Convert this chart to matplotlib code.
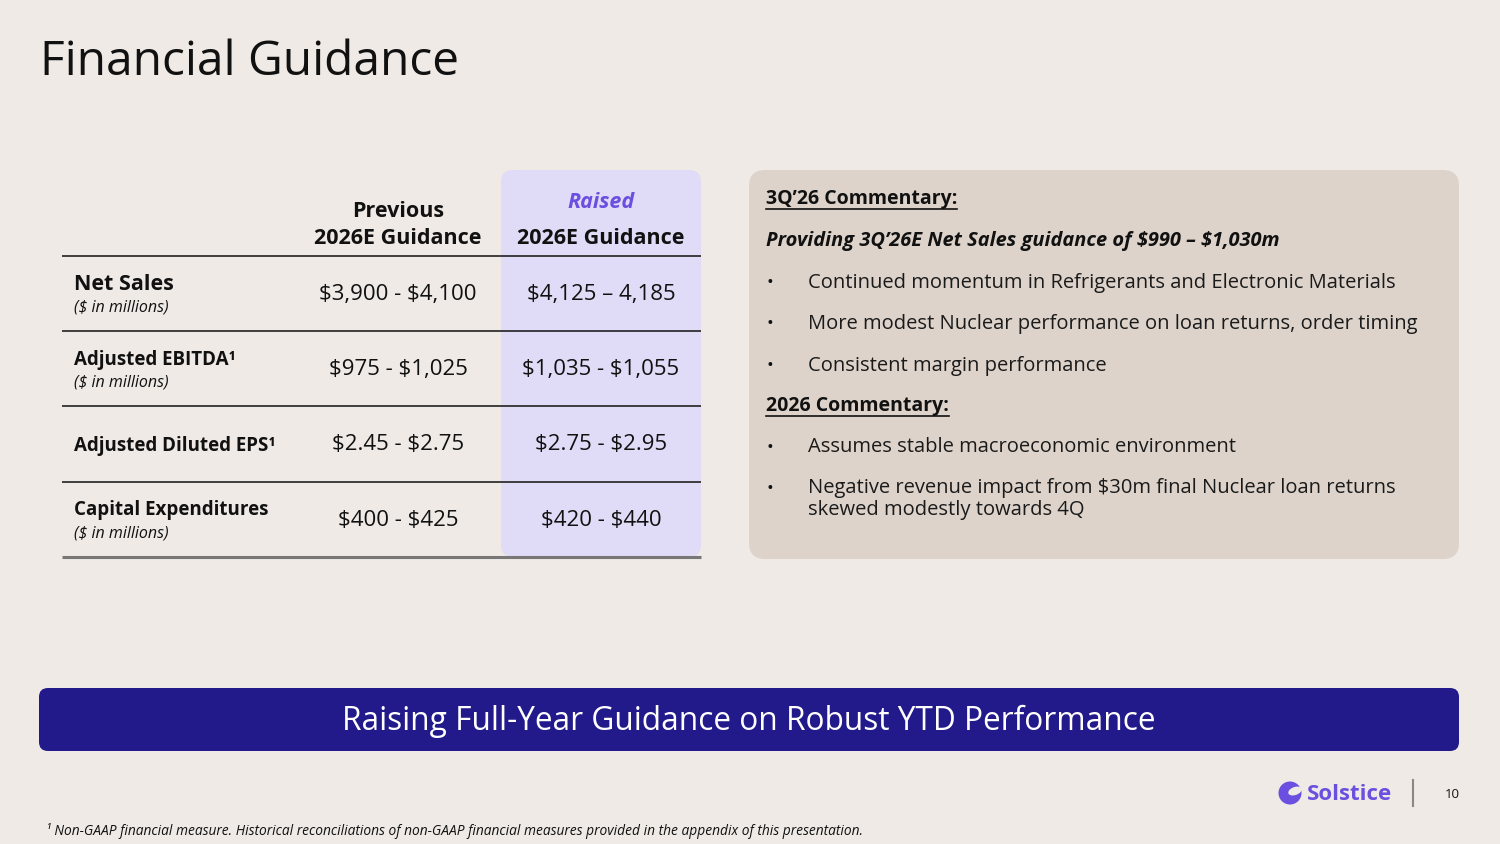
import matplotlib
matplotlib.use("Agg")
import matplotlib.pyplot as plt
from matplotlib.patches import FancyBboxPatch, Circle, Ellipse

# slide content
title = "Financial Guidance"
col_headers = ["Previous\n2026E Guidance", "2026E Guidance"]
raised_tag = "Raised"
metrics = ["Net Sales", "Adjusted EBITDA\u00b9", "Adjusted Diluted EPS\u00b9", "Capital Expenditures"]
metric_units = ["($ in millions)", "($ in millions)", "", "($ in millions)"]
previous = ["$3,900 - $4,100", "$975 - $1,025", "$2.45 - $2.75", "$400 - $425"]
raised = ["$4,125 \u2013 4,185", "$1,035 - $1,055", "$2.75 - $2.95", "$420 - $440"]

q3_heading = "3Q\u201926 Commentary:"
q3_lead = "Providing 3Q\u201926E Net Sales guidance of $990 \u2013 $1,030m"
q3_bullets = ["Continued momentum in Refrigerants and Electronic Materials",
              "More modest Nuclear performance on loan returns, order timing",
              "Consistent margin performance"]
fy_heading = "2026 Commentary:"
fy_bullets = ["Assumes stable macroeconomic environment",
              "Negative revenue impact from $30m final Nuclear loan returns\nskewed modestly towards 4Q"]

banner = "Raising Full-Year Guidance on Robust YTD Performance"
footnote = "\u00b9 Non-GAAP financial measure. Historical reconciliations of non-GAAP financial measures provided in the appendix of this presentation."
brand = "Solstice"
page = "10"

# colours
bg = "#EFEAE6"
box_c = "#DDD3CB"
lav = "#E0DBF6"
navy = "#22198A"
purple = "#6A4FE0"
ink = "#111111"

plt.rcParams['font.family'] = ['Open Sans', 'DejaVu Sans']
plt.rcParams['text.parse_math'] = False

W, H = 1500, 844
fig = plt.figure(figsize=(15, 8.44), dpi=100, facecolor=bg)
ax = fig.add_axes([0, 0, 1, 1])
ax.set_xlim(0, W)
ax.set_ylim(H, 0)
ax.axis("off")
ax.set_facecolor(bg)

ax.text(40, 62, title, fontsize=34.5, color=ink, va="center", ha="left")

# ---- table ----
left, right = 62, 701
col_x = [398, 601]
rcol_l, rcol_r = 501, 701
head_line = 256
row_h = 75.2
n = len(metrics)
dy = 2  # Open Sans sits a little high with va=center

ax.add_patch(FancyBboxPatch((rcol_l, 170), rcol_r - rcol_l, head_line + n * row_h - 170,
                            boxstyle="round,pad=0,rounding_size=12", fc=lav, ec="none", zorder=1))

ax.text(col_x[0], 225, col_headers[0], fontsize=15.5, fontweight="bold", ha="center",
        va="center", color=ink, linespacing=1.4, zorder=3)
ax.text(col_x[1], 203, raised_tag, fontsize=15.5, fontweight="bold", style="italic",
        ha="center", va="center", color=purple, zorder=3)
ax.text(col_x[1], 238, col_headers[1], fontsize=15.5, fontweight="bold", ha="center",
        va="center", color=ink, zorder=3)

for i in range(n + 1):
    y = head_line + i * row_h
    last = i == n
    ax.plot([left, right], [y, y], color="#777777" if last else "#222222",
            lw=2.2 if last else 1.2, zorder=2, solid_capstyle="butt")

for i, (m, u, p, r) in enumerate(zip(metrics, metric_units, previous, raised)):
    cy = head_line + (i + 0.5) * row_h + dy
    big = i == 0
    fs = 15.5 if big else 13.5
    if u:
        ax.text(74, cy - 11, m, fontsize=fs, fontweight="bold", ha="left", va="center", color=ink, zorder=3)
        ax.text(74, cy + 12, u, fontsize=11.5, style="italic", ha="left", va="center", color=ink, zorder=3)
    else:
        ax.text(74, cy, m, fontsize=fs, fontweight="bold", ha="left", va="center", color=ink, zorder=3)
    ax.text(col_x[0], cy - 1, p, fontsize=16, ha="center", va="center", color=ink, zorder=3)
    ax.text(col_x[1], cy - 1, r, fontsize=16, ha="center", va="center", color=ink, zorder=3)

# ---- commentary box ----
ax.add_patch(FancyBboxPatch((749, 170), 710, 389, boxstyle="round,pad=0,rounding_size=16",
                            fc=box_c, ec="none", zorder=1))

renderer = fig.canvas.get_renderer()


def underlined(x, y, s):
    t = ax.text(x, y, s, fontsize=14, fontweight="bold", ha="left", va="center", color=ink, zorder=3)
    bb = t.get_window_extent(renderer=renderer)
    ax.plot([x, x + bb.width], [y + 10, y + 10], color=ink, lw=1.2, zorder=3)


tx, bx = 766, 770
underlined(tx, 199, q3_heading)
ax.text(tx, 241, q3_lead, fontsize=14.4, fontweight="bold", style="italic", ha="left",
        va="center", color=ink, zorder=3)
for k, b in enumerate(q3_bullets):
    y = 283 + k * 41.5
    ax.text(bx, y, "\u2022", fontsize=13, ha="center", va="center", color=ink, zorder=3)
    ax.text(808, y, b, fontsize=14.5, ha="left", va="center", color="#1a1a1a", zorder=3)
underlined(tx, 406, fy_heading)
for k, b in enumerate(fy_bullets):
    y = 448 + k * 41
    ax.text(bx, y, "\u2022", fontsize=13, ha="center", va="center", color=ink, zorder=3)
    ax.text(808, y - 11, b, fontsize=14.5, ha="left", va="top", color="#1a1a1a",
            linespacing=1.15, zorder=3)

# ---- banner ----
ax.add_patch(FancyBboxPatch((39, 688), 1420, 63, boxstyle="round,pad=0,rounding_size=9",
                            fc=navy, ec="none", zorder=1))
ax.text(749, 721, banner, fontsize=22.8, color="white", ha="center", va="center", zorder=3)

# ---- footer ----
ax.add_patch(Circle((1290, 793), 11.5, fc=purple, ec="none", zorder=2))
ax.add_patch(Ellipse((1295, 791), 14, 8, angle=-20, fc=bg, ec="none", zorder=3))
ax.text(1307, 794, brand, fontsize=16, fontweight="bold", color=purple, ha="left", va="center", zorder=3)
ax.plot([1413, 1413], [780, 806], color="#888888", lw=1.5, zorder=3)
ax.text(1452, 795, page, fontsize=9.5, color=ink, ha="center", va="center", zorder=3)
ax.text(46, 831, footnote, fontsize=9.9, style="italic", color=ink, ha="left", va="center", zorder=3)

fig.savefig("out.png", dpi=100, facecolor=bg)
